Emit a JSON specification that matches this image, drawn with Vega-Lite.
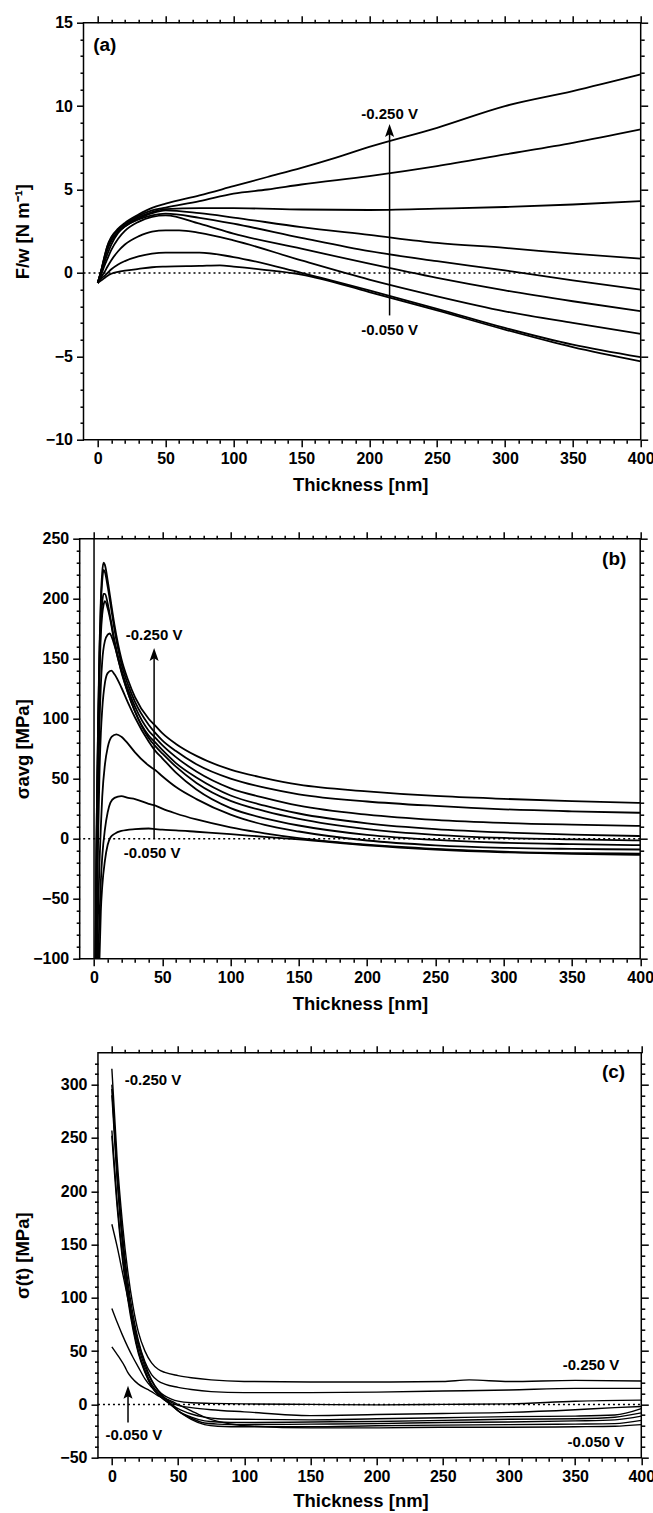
{
  "$schema": "https://vega.github.io/schema/vega-lite/v6.json",
  "background": "white",
  "padding": {"left": 12.7, "top": 14.7, "right": 0, "bottom": 0},
  "config": {
    "view": {"stroke": null},
    "axis": {"domain": false, "grid": false, "labelFont": "Liberation Sans", "labelFontSize": 16, "labelFontWeight": "bold", "labelColor": "black", "titleFont": "Liberation Sans", "titleFontSize": 18.5, "titleFontWeight": "bold", "titleColor": "black", "tickColor": "black", "tickWidth": 1.5, "labelOverlap": false, "labelFlush": false, "labelPadding": 4, "titlePadding": 9},
    "text": {"font": "Liberation Sans", "fontWeight": "bold", "fontSize": 15, "color": "black"}
  },
  "datasets": {
    "a": [
      {"s":1,"x":0,"y":-0.6},{"s":1,"x":3,"y":0.3},{"s":1,"x":5,"y":1.0},{"s":1,"x":7,"y":1.6},{"s":1,"x":10,"y":2.15},{"s":1,"x":15,"y":2.65},{"s":1,"x":20,"y":3.0},{"s":1,"x":30,"y":3.5},{"s":1,"x":40,"y":3.9},{"s":1,"x":50,"y":4.15},{"s":1,"x":75,"y":4.65},{"s":1,"x":100,"y":5.2},{"s":1,"x":125,"y":5.75},{"s":1,"x":150,"y":6.3},{"s":1,"x":175,"y":6.9},{"s":1,"x":200,"y":7.55},{"s":1,"x":250,"y":8.7},{"s":1,"x":300,"y":10.0},{"s":1,"x":350,"y":10.9},{"s":1,"x":400,"y":11.9},
      {"s":2,"x":0,"y":-0.6},{"s":2,"x":3,"y":0.28},{"s":2,"x":5,"y":0.97},{"s":2,"x":7,"y":1.57},{"s":2,"x":10,"y":2.1},{"s":2,"x":15,"y":2.6},{"s":2,"x":20,"y":2.92},{"s":2,"x":30,"y":3.42},{"s":2,"x":40,"y":3.75},{"s":2,"x":50,"y":3.92},{"s":2,"x":75,"y":4.3},{"s":2,"x":100,"y":4.75},{"s":2,"x":125,"y":5.0},{"s":2,"x":150,"y":5.3},{"s":2,"x":200,"y":5.8},{"s":2,"x":250,"y":6.4},{"s":2,"x":300,"y":7.1},{"s":2,"x":350,"y":7.8},{"s":2,"x":400,"y":8.6},
      {"s":3,"x":0,"y":-0.6},{"s":3,"x":3,"y":0.25},{"s":3,"x":5,"y":0.9},{"s":3,"x":7,"y":1.43},{"s":3,"x":10,"y":1.96},{"s":3,"x":15,"y":2.48},{"s":3,"x":20,"y":2.82},{"s":3,"x":30,"y":3.33},{"s":3,"x":40,"y":3.65},{"s":3,"x":50,"y":3.82},{"s":3,"x":75,"y":3.88},{"s":3,"x":100,"y":3.88},{"s":3,"x":150,"y":3.8},{"s":3,"x":200,"y":3.77},{"s":3,"x":250,"y":3.85},{"s":3,"x":300,"y":3.95},{"s":3,"x":350,"y":4.1},{"s":3,"x":400,"y":4.3},
      {"s":4,"x":0,"y":-0.6},{"s":4,"x":3,"y":0.22},{"s":4,"x":5,"y":0.85},{"s":4,"x":7,"y":1.36},{"s":4,"x":10,"y":1.92},{"s":4,"x":15,"y":2.45},{"s":4,"x":20,"y":2.78},{"s":4,"x":30,"y":3.25},{"s":4,"x":40,"y":3.58},{"s":4,"x":50,"y":3.75},{"s":4,"x":75,"y":3.58},{"s":4,"x":100,"y":3.32},{"s":4,"x":150,"y":2.75},{"s":4,"x":200,"y":2.28},{"s":4,"x":250,"y":1.8},{"s":4,"x":300,"y":1.5},{"s":4,"x":350,"y":1.15},{"s":4,"x":400,"y":0.85},
      {"s":5,"x":0,"y":-0.6},{"s":5,"x":3,"y":0.12},{"s":5,"x":5,"y":0.64},{"s":5,"x":7,"y":1.1},{"s":5,"x":10,"y":1.7},{"s":5,"x":15,"y":2.4},{"s":5,"x":20,"y":2.8},{"s":5,"x":30,"y":3.2},{"s":5,"x":40,"y":3.45},{"s":5,"x":50,"y":3.55},{"s":5,"x":75,"y":3.3},{"s":5,"x":100,"y":2.95},{"s":5,"x":150,"y":2.1},{"s":5,"x":200,"y":1.3},{"s":5,"x":250,"y":0.7},{"s":5,"x":300,"y":0.15},{"s":5,"x":350,"y":-0.45},{"s":5,"x":400,"y":-1.0},
      {"s":6,"x":0,"y":-0.6},{"s":6,"x":3,"y":0.0},{"s":6,"x":5,"y":0.44},{"s":6,"x":7,"y":0.82},{"s":6,"x":10,"y":1.38},{"s":6,"x":15,"y":2.05},{"s":6,"x":20,"y":2.52},{"s":6,"x":30,"y":3.06},{"s":6,"x":40,"y":3.36},{"s":6,"x":50,"y":3.45},{"s":6,"x":75,"y":2.95},{"s":6,"x":100,"y":2.35},{"s":6,"x":150,"y":1.45},{"s":6,"x":200,"y":0.55},{"s":6,"x":250,"y":-0.3},{"s":6,"x":300,"y":-1.05},{"s":6,"x":350,"y":-1.7},{"s":6,"x":400,"y":-2.3},
      {"s":7,"x":0,"y":-0.6},{"s":7,"x":3,"y":-0.18},{"s":7,"x":5,"y":0.05},{"s":7,"x":7,"y":0.35},{"s":7,"x":10,"y":0.76},{"s":7,"x":15,"y":1.3},{"s":7,"x":20,"y":1.7},{"s":7,"x":30,"y":2.19},{"s":7,"x":40,"y":2.48},{"s":7,"x":50,"y":2.55},{"s":7,"x":60,"y":2.55},{"s":7,"x":75,"y":2.4},{"s":7,"x":100,"y":1.95},{"s":7,"x":150,"y":0.75},{"s":7,"x":200,"y":-0.4},{"s":7,"x":250,"y":-1.4},{"s":7,"x":300,"y":-2.3},{"s":7,"x":350,"y":-3.0},{"s":7,"x":400,"y":-3.65},
      {"s":8,"x":0,"y":-0.6},{"s":8,"x":3,"y":-0.3},{"s":8,"x":5,"y":-0.18},{"s":8,"x":7,"y":-0.02},{"s":8,"x":10,"y":0.22},{"s":8,"x":15,"y":0.51},{"s":8,"x":20,"y":0.71},{"s":8,"x":30,"y":0.99},{"s":8,"x":40,"y":1.16},{"s":8,"x":50,"y":1.22},{"s":8,"x":75,"y":1.22},{"s":8,"x":100,"y":0.95},{"s":8,"x":150,"y":0.0},{"s":8,"x":200,"y":-1.05},{"s":8,"x":250,"y":-2.15},{"s":8,"x":300,"y":-3.3},{"s":8,"x":350,"y":-4.3},{"s":8,"x":400,"y":-5.05},
      {"s":9,"x":0,"y":-0.6},{"s":9,"x":3,"y":-0.42},{"s":9,"x":5,"y":-0.3},{"s":9,"x":7,"y":-0.18},{"s":9,"x":10,"y":-0.05},{"s":9,"x":15,"y":0.06},{"s":9,"x":20,"y":0.13},{"s":9,"x":30,"y":0.24},{"s":9,"x":40,"y":0.34},{"s":9,"x":50,"y":0.38},{"s":9,"x":75,"y":0.42},{"s":9,"x":90,"y":0.45},{"s":9,"x":100,"y":0.38},{"s":9,"x":130,"y":0.12},{"s":9,"x":150,"y":-0.1},{"s":9,"x":200,"y":-1.15},{"s":9,"x":250,"y":-2.25},{"s":9,"x":300,"y":-3.4},{"s":9,"x":350,"y":-4.45},{"s":9,"x":400,"y":-5.3}
    ],
    "b": [
      {"s":1,"x":1,"y":-100},{"s":1,"x":2,"y":20},{"s":1,"x":3,"y":100},{"s":1,"x":4,"y":160},{"s":1,"x":5,"y":200},{"s":1,"x":6,"y":222},{"s":1,"x":7,"y":230},{"s":1,"x":8,"y":228},{"s":1,"x":10,"y":215},{"s":1,"x":12,"y":200},{"s":1,"x":15,"y":178},{"s":1,"x":20,"y":150},{"s":1,"x":25,"y":132},{"s":1,"x":30,"y":118},{"s":1,"x":40,"y":100},{"s":1,"x":45,"y":94},{"s":1,"x":50,"y":88},{"s":1,"x":60,"y":79},{"s":1,"x":75,"y":69},{"s":1,"x":100,"y":57.5},{"s":1,"x":125,"y":50.5},{"s":1,"x":150,"y":45},{"s":1,"x":200,"y":39.5},{"s":1,"x":250,"y":35.6},{"s":1,"x":300,"y":33.2},{"s":1,"x":350,"y":31.3},{"s":1,"x":400,"y":29.8},
      {"s":2,"x":1.1,"y":-100},{"s":2,"x":2,"y":15},{"s":2,"x":3,"y":95},{"s":2,"x":4,"y":155},{"s":2,"x":5,"y":195},{"s":2,"x":6,"y":215},{"s":2,"x":7,"y":224},{"s":2,"x":8,"y":222},{"s":2,"x":10,"y":210},{"s":2,"x":12,"y":196},{"s":2,"x":15,"y":174},{"s":2,"x":20,"y":146},{"s":2,"x":25,"y":128},{"s":2,"x":30,"y":114},{"s":2,"x":40,"y":95},{"s":2,"x":45,"y":88},{"s":2,"x":50,"y":82},{"s":2,"x":60,"y":73},{"s":2,"x":75,"y":62},{"s":2,"x":100,"y":50},{"s":2,"x":125,"y":42.5},{"s":2,"x":150,"y":37},{"s":2,"x":200,"y":31},{"s":2,"x":250,"y":27.3},{"s":2,"x":300,"y":24.5},{"s":2,"x":350,"y":22.8},{"s":2,"x":400,"y":21.6},
      {"s":3,"x":1.2,"y":-100},{"s":3,"x":2,"y":5},{"s":3,"x":3,"y":85},{"s":3,"x":4,"y":145},{"s":3,"x":5,"y":180},{"s":3,"x":6,"y":197},{"s":3,"x":7,"y":204},{"s":3,"x":8,"y":204},{"s":3,"x":10,"y":196},{"s":3,"x":12,"y":184},{"s":3,"x":15,"y":165},{"s":3,"x":20,"y":141},{"s":3,"x":25,"y":124},{"s":3,"x":30,"y":110},{"s":3,"x":40,"y":90},{"s":3,"x":45,"y":84},{"s":3,"x":50,"y":78},{"s":3,"x":60,"y":68},{"s":3,"x":75,"y":56},{"s":3,"x":100,"y":42},{"s":3,"x":125,"y":34},{"s":3,"x":150,"y":27.5},{"s":3,"x":200,"y":20},{"s":3,"x":250,"y":15.6},{"s":3,"x":300,"y":13.1},{"s":3,"x":350,"y":11.7},{"s":3,"x":400,"y":10.7},
      {"s":4,"x":1.3,"y":-100},{"s":4,"x":2,"y":-5},{"s":4,"x":3,"y":75},{"s":4,"x":4,"y":135},{"s":4,"x":5,"y":170},{"s":4,"x":6,"y":187},{"s":4,"x":7,"y":195},{"s":4,"x":8,"y":198},{"s":4,"x":10,"y":192},{"s":4,"x":12,"y":182},{"s":4,"x":15,"y":163},{"s":4,"x":20,"y":139},{"s":4,"x":25,"y":121},{"s":4,"x":30,"y":106},{"s":4,"x":40,"y":86},{"s":4,"x":45,"y":80},{"s":4,"x":50,"y":74},{"s":4,"x":60,"y":63},{"s":4,"x":75,"y":51},{"s":4,"x":100,"y":36},{"s":4,"x":125,"y":27.5},{"s":4,"x":150,"y":21},{"s":4,"x":200,"y":12.8},{"s":4,"x":250,"y":8},{"s":4,"x":300,"y":5.2},{"s":4,"x":350,"y":3.4},{"s":4,"x":400,"y":2.2},
      {"s":5,"x":1.5,"y":-100},{"s":5,"x":2,"y":-40},{"s":5,"x":3,"y":40},{"s":5,"x":4,"y":95},{"s":5,"x":5,"y":128},{"s":5,"x":6,"y":148},{"s":5,"x":8,"y":165},{"s":5,"x":10,"y":170},{"s":5,"x":11.5,"y":171},{"s":5,"x":13,"y":168},{"s":5,"x":15,"y":161},{"s":5,"x":20,"y":140},{"s":5,"x":25,"y":121},{"s":5,"x":30,"y":106},{"s":5,"x":40,"y":84},{"s":5,"x":45,"y":77},{"s":5,"x":50,"y":71},{"s":5,"x":60,"y":60},{"s":5,"x":75,"y":46.5},{"s":5,"x":100,"y":31.5},{"s":5,"x":125,"y":23},{"s":5,"x":150,"y":16.5},{"s":5,"x":200,"y":8},{"s":5,"x":250,"y":3.2},{"s":5,"x":300,"y":0.6},{"s":5,"x":350,"y":-0.6},{"s":5,"x":400,"y":-1.4},
      {"s":6,"x":1.8,"y":-100},{"s":6,"x":2,"y":-80},{"s":6,"x":3,"y":0},{"s":6,"x":4,"y":55},{"s":6,"x":5,"y":88},{"s":6,"x":6,"y":108},{"s":6,"x":8,"y":130},{"s":6,"x":10,"y":138},{"s":6,"x":12.7,"y":140},{"s":6,"x":15,"y":137},{"s":6,"x":20,"y":126},{"s":6,"x":25,"y":113},{"s":6,"x":30,"y":101},{"s":6,"x":40,"y":81},{"s":6,"x":45,"y":73},{"s":6,"x":50,"y":67},{"s":6,"x":60,"y":55},{"s":6,"x":75,"y":41},{"s":6,"x":100,"y":25.5},{"s":6,"x":125,"y":17},{"s":6,"x":150,"y":11},{"s":6,"x":200,"y":3.2},{"s":6,"x":250,"y":-1},{"s":6,"x":300,"y":-3.4},{"s":6,"x":350,"y":-4.6},{"s":6,"x":400,"y":-5.4},
      {"s":7,"x":2.3,"y":-100},{"s":7,"x":3,"y":-60},{"s":7,"x":4,"y":-20},{"s":7,"x":5,"y":10},{"s":7,"x":6,"y":35},{"s":7,"x":8,"y":62},{"s":7,"x":10,"y":76},{"s":7,"x":13,"y":85},{"s":7,"x":16.4,"y":87},{"s":7,"x":20,"y":85},{"s":7,"x":25,"y":79},{"s":7,"x":30,"y":72},{"s":7,"x":40,"y":61},{"s":7,"x":45,"y":57},{"s":7,"x":50,"y":52},{"s":7,"x":60,"y":43},{"s":7,"x":75,"y":33},{"s":7,"x":100,"y":20},{"s":7,"x":125,"y":11.5},{"s":7,"x":150,"y":6},{"s":7,"x":200,"y":-1.5},{"s":7,"x":250,"y":-5.5},{"s":7,"x":300,"y":-7.6},{"s":7,"x":350,"y":-8.5},{"s":7,"x":400,"y":-9},
      {"s":8,"x":3,"y":-100},{"s":8,"x":4,"y":-65},{"s":8,"x":5,"y":-35},{"s":8,"x":6,"y":-15},{"s":8,"x":8,"y":8},{"s":8,"x":10,"y":22},{"s":8,"x":12,"y":30},{"s":8,"x":15,"y":34},{"s":8,"x":20,"y":35.5},{"s":8,"x":25,"y":34},{"s":8,"x":30,"y":33},{"s":8,"x":40,"y":29},{"s":8,"x":45,"y":27.5},{"s":8,"x":50,"y":25},{"s":8,"x":60,"y":21},{"s":8,"x":75,"y":16},{"s":8,"x":100,"y":9.5},{"s":8,"x":125,"y":4.5},{"s":8,"x":150,"y":0.5},{"s":8,"x":200,"y":-5},{"s":8,"x":250,"y":-8.5},{"s":8,"x":300,"y":-10.8},{"s":8,"x":350,"y":-12},{"s":8,"x":400,"y":-12.4},
      {"s":9,"x":4,"y":-100},{"s":9,"x":5,"y":-60},{"s":9,"x":6,"y":-40},{"s":9,"x":8,"y":-18},{"s":9,"x":10,"y":-5},{"s":9,"x":12,"y":1},{"s":9,"x":15,"y":4},{"s":9,"x":20,"y":6.5},{"s":9,"x":30,"y":8},{"s":9,"x":40,"y":8.5},{"s":9,"x":45,"y":8},{"s":9,"x":50,"y":7.5},{"s":9,"x":60,"y":7},{"s":9,"x":75,"y":5.8},{"s":9,"x":100,"y":3.8},{"s":9,"x":125,"y":1.5},{"s":9,"x":150,"y":-0.5},{"s":9,"x":200,"y":-5.5},{"s":9,"x":250,"y":-9},{"s":9,"x":300,"y":-11.3},{"s":9,"x":350,"y":-12.7},{"s":9,"x":400,"y":-13.5}
    ],
    "c": [
      {"s":1,"x":0,"y":315},{"s":1,"x":4,"y":230},{"s":1,"x":8,"y":170},{"s":1,"x":12,"y":125},{"s":1,"x":16,"y":92},{"s":1,"x":20,"y":68},{"s":1,"x":25,"y":50},{"s":1,"x":30,"y":39},{"s":1,"x":35,"y":33},{"s":1,"x":40,"y":30},{"s":1,"x":50,"y":27},{"s":1,"x":60,"y":25},{"s":1,"x":75,"y":23},{"s":1,"x":100,"y":21.5},{"s":1,"x":150,"y":21},{"s":1,"x":200,"y":21},{"s":1,"x":250,"y":21.5},{"s":1,"x":270,"y":23},{"s":1,"x":300,"y":21.5},{"s":1,"x":350,"y":22.5},{"s":1,"x":400,"y":22},
      {"s":2,"x":0,"y":300},{"s":2,"x":4,"y":220},{"s":2,"x":8,"y":160},{"s":2,"x":12,"y":116},{"s":2,"x":16,"y":84},{"s":2,"x":20,"y":60},{"s":2,"x":25,"y":40},{"s":2,"x":30,"y":28},{"s":2,"x":35,"y":22},{"s":2,"x":40,"y":19},{"s":2,"x":50,"y":16},{"s":2,"x":60,"y":14},{"s":2,"x":75,"y":12},{"s":2,"x":100,"y":11},{"s":2,"x":150,"y":11},{"s":2,"x":200,"y":11.5},{"s":2,"x":250,"y":12.5},{"s":2,"x":300,"y":13.5},{"s":2,"x":350,"y":15},{"s":2,"x":400,"y":15},
      {"s":3,"x":0,"y":296},{"s":3,"x":4,"y":215},{"s":3,"x":8,"y":155},{"s":3,"x":12,"y":110},{"s":3,"x":16,"y":78},{"s":3,"x":20,"y":55},{"s":3,"x":25,"y":35},{"s":3,"x":30,"y":22},{"s":3,"x":35,"y":13},{"s":3,"x":40,"y":8},{"s":3,"x":45,"y":5},{"s":3,"x":50,"y":3},{"s":3,"x":60,"y":1.5},{"s":3,"x":75,"y":1},{"s":3,"x":100,"y":0.5},{"s":3,"x":150,"y":0},{"s":3,"x":200,"y":-0.5},{"s":3,"x":250,"y":0},{"s":3,"x":300,"y":0.5},{"s":3,"x":350,"y":3},{"s":3,"x":400,"y":4},
      {"s":4,"x":0,"y":290},{"s":4,"x":4,"y":210},{"s":4,"x":8,"y":150},{"s":4,"x":12,"y":106},{"s":4,"x":16,"y":74},{"s":4,"x":20,"y":50},{"s":4,"x":25,"y":32},{"s":4,"x":30,"y":19},{"s":4,"x":35,"y":11},{"s":4,"x":40,"y":6},{"s":4,"x":45,"y":2},{"s":4,"x":50,"y":-1},{"s":4,"x":60,"y":-3},{"s":4,"x":75,"y":-5},{"s":4,"x":100,"y":-7},{"s":4,"x":150,"y":-10.5},{"s":4,"x":200,"y":-9.5},{"s":4,"x":250,"y":-8.5},{"s":4,"x":300,"y":-7.5},{"s":4,"x":350,"y":-5},{"s":4,"x":380,"y":-3},{"s":4,"x":400,"y":-2},
      {"s":5,"x":0,"y":257},{"s":5,"x":4,"y":190},{"s":5,"x":8,"y":140},{"s":5,"x":12,"y":102},{"s":5,"x":16,"y":73},{"s":5,"x":20,"y":50},{"s":5,"x":25,"y":31},{"s":5,"x":30,"y":17},{"s":5,"x":35,"y":9},{"s":5,"x":40,"y":4},{"s":5,"x":45,"y":0},{"s":5,"x":50,"y":-4},{"s":5,"x":60,"y":-9},{"s":5,"x":70,"y":-12},{"s":5,"x":80,"y":-13.5},{"s":5,"x":100,"y":-14},{"s":5,"x":150,"y":-14.5},{"s":5,"x":200,"y":-13.5},{"s":5,"x":250,"y":-12.5},{"s":5,"x":300,"y":-11.5},{"s":5,"x":350,"y":-11},{"s":5,"x":380,"y":-10},{"s":5,"x":400,"y":-4},
      {"s":6,"x":0,"y":252},{"s":6,"x":4,"y":185},{"s":6,"x":8,"y":136},{"s":6,"x":12,"y":99},{"s":6,"x":16,"y":70},{"s":6,"x":20,"y":48},{"s":6,"x":25,"y":30},{"s":6,"x":30,"y":17},{"s":6,"x":35,"y":9},{"s":6,"x":40,"y":4},{"s":6,"x":45,"y":-1},{"s":6,"x":50,"y":-6},{"s":6,"x":60,"y":-12},{"s":6,"x":70,"y":-15.5},{"s":6,"x":80,"y":-16.5},{"s":6,"x":100,"y":-17},{"s":6,"x":150,"y":-16.5},{"s":6,"x":200,"y":-16},{"s":6,"x":250,"y":-15},{"s":6,"x":300,"y":-14},{"s":6,"x":350,"y":-13.5},{"s":6,"x":380,"y":-12},{"s":6,"x":400,"y":-8},
      {"s":7,"x":0,"y":169},{"s":7,"x":4,"y":148},{"s":7,"x":8,"y":124},{"s":7,"x":12,"y":100},{"s":7,"x":16,"y":78},{"s":7,"x":20,"y":58},{"s":7,"x":25,"y":38},{"s":7,"x":30,"y":23},{"s":7,"x":35,"y":13},{"s":7,"x":40,"y":6},{"s":7,"x":45,"y":0},{"s":7,"x":50,"y":-6},{"s":7,"x":60,"y":-13},{"s":7,"x":70,"y":-17.5},{"s":7,"x":80,"y":-18.5},{"s":7,"x":100,"y":-19},{"s":7,"x":150,"y":-18.5},{"s":7,"x":200,"y":-18},{"s":7,"x":250,"y":-17},{"s":7,"x":300,"y":-16.5},{"s":7,"x":350,"y":-15.5},{"s":7,"x":380,"y":-14.5},{"s":7,"x":400,"y":-11},
      {"s":8,"x":0,"y":90},{"s":8,"x":4,"y":77},{"s":8,"x":8,"y":65},{"s":8,"x":12,"y":54},{"s":8,"x":16,"y":44},{"s":8,"x":20,"y":35},{"s":8,"x":25,"y":24},{"s":8,"x":30,"y":16},{"s":8,"x":35,"y":10},{"s":8,"x":40,"y":6},{"s":8,"x":45,"y":0},{"s":8,"x":50,"y":-6},{"s":8,"x":60,"y":-14},{"s":8,"x":70,"y":-19},{"s":8,"x":80,"y":-20.5},{"s":8,"x":100,"y":-21},{"s":8,"x":150,"y":-21},{"s":8,"x":200,"y":-20},{"s":8,"x":250,"y":-19.5},{"s":8,"x":300,"y":-19},{"s":8,"x":350,"y":-18.5},{"s":8,"x":380,"y":-18},{"s":8,"x":400,"y":-15},
      {"s":9,"x":0,"y":54},{"s":9,"x":5,"y":45},{"s":9,"x":10,"y":35},{"s":9,"x":12,"y":30},{"s":9,"x":15,"y":25},{"s":9,"x":20,"y":19},{"s":9,"x":27,"y":14},{"s":9,"x":30,"y":12},{"s":9,"x":35,"y":8},{"s":9,"x":40,"y":5.6},{"s":9,"x":45,"y":3},{"s":9,"x":50,"y":0},{"s":9,"x":60,"y":-6},{"s":9,"x":70,"y":-12},{"s":9,"x":80,"y":-16},{"s":9,"x":100,"y":-20},{"s":9,"x":150,"y":-22},{"s":9,"x":200,"y":-22},{"s":9,"x":250,"y":-21.5},{"s":9,"x":300,"y":-21.5},{"s":9,"x":350,"y":-21},{"s":9,"x":380,"y":-20.5},{"s":9,"x":400,"y":-19}
    ]
  },
  "spacing": 36,
  "vconcat": [
    {
      "width": 561, "height": 417,
      "resolve": {"axis": {"x": "independent", "y": "independent"}},
      "layer": [
        {"data": {"values": [{"x": -10.5, "x2": 400, "y": -10, "y2": 15}]}, "mark": {"type": "rect", "fill": "transparent", "stroke": "black", "strokeWidth": 1.5},
         "encoding": {"x": {"field": "x", "type": "quantitative", "scale": {"domain": [-13.3, 400], "nice": false, "zero": false}, "axis": null}, "x2": {"field": "x2"}, "y": {"field": "y", "type": "quantitative", "scale": {"domain": [-10, 15], "nice": false, "zero": false}, "axis": null}, "y2": {"field": "y2"}}},
        {"data": {"name": "a"}, "mark": {"type": "line", "color": "black", "strokeWidth": 1.8, "interpolate": "monotone", "clip": true},
         "encoding": {
           "x": {"field": "x", "type": "quantitative", "scale": {"domain": [-13.3, 400], "nice": false, "zero": false},
                 "axis": {"orient": "bottom", "title": "Thickness [nm]", "values": [0,10,20,30,40,50,60,70,80,90,100,110,120,130,140,150,160,170,180,190,200,210,220,230,240,250,260,270,280,290,300,310,320,330,340,350,360,370,380,390,400], "labelExpr": "datum.value % 50 === 0 ? datum.label : ''", "tickSize": {"condition": {"test": "datum.value % 50 === 0", "value": 7}, "value": 3.5}}},
           "y": {"field": "y", "type": "quantitative", "scale": {"domain": [-10, 15], "nice": false, "zero": false},
                 "axis": {"orient": "left", "offset": -3.8, "title": "F/w [N m⁻¹]", "titleX": -51, "values": [-10,-9,-8,-7,-6,-5,-4,-3,-2,-1,0,1,2,3,4,5,6,7,8,9,10,11,12,13,14,15], "labelExpr": "datum.value % 5 === 0 ? datum.label : ''", "tickSize": {"condition": {"test": "datum.value % 5 === 0", "value": 7}, "value": 3.5}}},
           "detail": {"field": "s", "type": "nominal"}
         }},
        {"data": {"values": [{"x": -10.5, "x2": 400}]}, "mark": {"type": "rule", "color": "black", "strokeDash": [2, 3], "strokeWidth": 1.5},
         "encoding": {"x": {"field": "x", "type": "quantitative", "axis": null}, "x2": {"field": "x2"},
           "y": {"datum": 0, "type": "quantitative", "scale": {"domain": [-10, 15], "nice": false, "zero": false},
                 "axis": {"orient": "right", "title": null, "labels": false, "values": [-10,-9,-8,-7,-6,-5,-4,-3,-2,-1,0,1,2,3,4,5,6,7,8,9,10,11,12,13,14,15], "tickSize": {"condition": {"test": "datum.value % 5 === 0", "value": 7}, "value": 3.5}}}}},
        {"data": {"values": [{"x": 215, "y": 9.55, "t": "-0.250 V"}, {"x": 215, "y": -3.4, "t": "-0.050 V"}]}, "mark": {"type": "text", "align": "center", "baseline": "middle"},
         "encoding": {
           "x": {"field": "x", "type": "quantitative", "scale": {"domain": [-13.3, 400], "nice": false, "zero": false},
                 "axis": {"orient": "top", "title": null, "labels": false, "values": [0,10,20,30,40,50,60,70,80,90,100,110,120,130,140,150,160,170,180,190,200,210,220,230,240,250,260,270,280,290,300,310,320,330,340,350,360,370,380,390,400], "tickSize": {"condition": {"test": "datum.value % 50 === 0", "value": 7}, "value": 3.5}}},
           "y": {"field": "y", "type": "quantitative", "scale": {"domain": [-10, 15], "nice": false, "zero": false}, "axis": null},
           "text": {"field": "t"}
         }},
        {"data": {"values": [{"x": 5.2, "y": 13.66, "t": "(a)"}]}, "mark": {"type": "text", "fontSize": 19, "align": "center", "baseline": "middle"},
         "encoding": {"x": {"field": "x", "type": "quantitative", "axis": null}, "y": {"field": "y", "type": "quantitative", "axis": null}, "text": {"field": "t"}}},
        {"data": {"values": [{"x": 215, "y": -2.55, "y2": 8.54}]}, "mark": {"type": "rule", "color": "black", "strokeWidth": 1.5},
         "encoding": {"x": {"field": "x", "type": "quantitative", "axis": null}, "y": {"field": "y", "type": "quantitative", "axis": null}, "y2": {"field": "y2"}}},
        {"data": {"values": [{"x": 215, "y": 8.54}]}, "mark": {"type": "point", "shape": "M0,-1L0.7,1L0,0.6L-0.7,1Z", "size": 169, "filled": true, "color": "black", "opacity": 1},
         "encoding": {"x": {"field": "x", "type": "quantitative", "axis": null}, "y": {"field": "y", "type": "quantitative", "axis": null}}}
      ]
    },
    {
      "spacing": 31,
      "vconcat": [
        {
          "width": 560.5, "height": 420,
          "resolve": {"axis": {"x": "independent", "y": "independent"}},
          "layer": [
            {"data": {"values": [{"x": -10.5, "x2": 400, "y": -100, "y2": 250}]}, "mark": {"type": "rect", "fill": "transparent", "stroke": "black", "strokeWidth": 1.5},
             "encoding": {"x": {"field": "x", "type": "quantitative", "scale": {"domain": [-10.5, 400], "nice": false, "zero": false}, "axis": null}, "x2": {"field": "x2"}, "y": {"field": "y", "type": "quantitative", "scale": {"domain": [-100, 250], "nice": false, "zero": false}, "axis": null}, "y2": {"field": "y2"}}},
            {"data": {"values": [{}]}, "mark": {"type": "rule", "color": "black", "strokeWidth": 1.5},
             "encoding": {"x": {"datum": 0, "type": "quantitative", "scale": {"domain": [-10.5, 400], "nice": false, "zero": false}, "axis": null}}},
            {"data": {"name": "b"}, "mark": {"type": "line", "color": "black", "strokeWidth": 1.8, "interpolate": "monotone", "clip": true},
             "encoding": {
               "x": {"field": "x", "type": "quantitative", "scale": {"domain": [-10.5, 400], "nice": false, "zero": false},
                     "axis": {"orient": "bottom", "title": "Thickness [nm]", "values": [0,10,20,30,40,50,60,70,80,90,100,110,120,130,140,150,160,170,180,190,200,210,220,230,240,250,260,270,280,290,300,310,320,330,340,350,360,370,380,390,400], "labelExpr": "datum.value % 50 === 0 ? datum.label : ''", "tickSize": {"condition": {"test": "datum.value % 50 === 0", "value": 7}, "value": 3.5}}},
               "y": {"field": "y", "type": "quantitative", "scale": {"domain": [-100, 250], "nice": false, "zero": false},
                     "axis": {"orient": "left", "title": "σavg [MPa]", "titleX": -47.2, "values": [-100,-90,-80,-70,-60,-50,-40,-30,-20,-10,0,10,20,30,40,50,60,70,80,90,100,110,120,130,140,150,160,170,180,190,200,210,220,230,240,250], "labelExpr": "datum.value % 50 === 0 ? datum.label : ''", "tickSize": {"condition": {"test": "datum.value % 50 === 0", "value": 7}, "value": 3.5}}},
               "detail": {"field": "s", "type": "nominal"}
             }},
            {"data": {"values": [{}]}, "mark": {"type": "rule", "color": "black", "strokeDash": [2, 3], "strokeWidth": 1.5},
             "encoding": {"y": {"datum": 0, "type": "quantitative", "scale": {"domain": [-100, 250], "nice": false, "zero": false},
                     "axis": {"orient": "right", "title": null, "labels": false, "values": [-100,-90,-80,-70,-60,-50,-40,-30,-20,-10,0,10,20,30,40,50,60,70,80,90,100,110,120,130,140,150,160,170,180,190,200,210,220,230,240,250], "tickSize": {"condition": {"test": "datum.value % 50 === 0", "value": 7}, "value": 3.5}}}}},
            {"data": {"values": [{"x": 44, "y": 169.4, "t": "-0.250 V"}, {"x": 42.6, "y": -11.7, "t": "-0.050 V"}]}, "mark": {"type": "text", "align": "center", "baseline": "middle"},
             "encoding": {
               "x": {"field": "x", "type": "quantitative", "scale": {"domain": [-10.5, 400], "nice": false, "zero": false},
                     "axis": {"orient": "top", "title": null, "labels": false, "values": [0,10,20,30,40,50,60,70,80,90,100,110,120,130,140,150,160,170,180,190,200,210,220,230,240,250,260,270,280,290,300,310,320,330,340,350,360,370,380,390,400], "tickSize": {"condition": {"test": "datum.value % 50 === 0", "value": 7}, "value": 3.5}}},
               "y": {"field": "y", "type": "quantitative", "scale": {"domain": [-100, 250], "nice": false, "zero": false}, "axis": null},
               "text": {"field": "t"}
             }},
            {"data": {"values": [{"x": 381, "y": 232.7, "t": "(b)"}]}, "mark": {"type": "text", "fontSize": 19, "align": "center", "baseline": "middle"},
             "encoding": {"x": {"field": "x", "type": "quantitative", "axis": null}, "y": {"field": "y", "type": "quantitative", "axis": null}, "text": {"field": "t"}}},
            {"data": {"values": [{"x": 44, "y": 0, "y2": 153.6}]}, "mark": {"type": "rule", "color": "black", "strokeWidth": 1.5},
             "encoding": {"x": {"field": "x", "type": "quantitative", "axis": null}, "y": {"field": "y", "type": "quantitative", "axis": null}, "y2": {"field": "y2"}}},
            {"data": {"values": [{"x": 44, "y": 153.6}]}, "mark": {"type": "point", "shape": "M0,-1L0.7,1L0,0.6L-0.7,1Z", "size": 169, "filled": true, "color": "black", "opacity": 1},
             "encoding": {"x": {"field": "x", "type": "quantitative", "axis": null}, "y": {"field": "y", "type": "quantitative", "axis": null}}}
          ]
        },
        {
          "width": 561.6, "height": 405,
          "resolve": {"axis": {"x": "independent", "y": "independent"}},
          "layer": [
            {"data": {"values": [{"x": -10.5, "x2": 400, "y": -50, "y2": 330}]}, "mark": {"type": "rect", "fill": "transparent", "stroke": "black", "strokeWidth": 1.5},
             "encoding": {"x": {"field": "x", "type": "quantitative", "scale": {"domain": [-24.3, 400], "nice": false, "zero": false}, "axis": null}, "x2": {"field": "x2"}, "y": {"field": "y", "type": "quantitative", "scale": {"domain": [-50, 330], "nice": false, "zero": false}, "axis": null}, "y2": {"field": "y2"}}},
            {"data": {"name": "c"}, "mark": {"type": "line", "color": "black", "strokeWidth": 1.4, "interpolate": "monotone", "clip": true},
             "encoding": {
               "x": {"field": "x", "type": "quantitative", "scale": {"domain": [-24.3, 400], "nice": false, "zero": false},
                     "axis": {"orient": "bottom", "title": "Thickness [nm]", "titlePadding": 7, "values": [0,10,20,30,40,50,60,70,80,90,100,110,120,130,140,150,160,170,180,190,200,210,220,230,240,250,260,270,280,290,300,310,320,330,340,350,360,370,380,390,400], "labelExpr": "datum.value % 50 === 0 ? datum.label : ''", "tickSize": {"condition": {"test": "datum.value % 50 === 0", "value": 7}, "value": 3.5}}},
               "y": {"field": "y", "type": "quantitative", "scale": {"domain": [-50, 330], "nice": false, "zero": false},
                     "axis": {"orient": "left", "offset": -18.3, "title": "σ(t) [MPa]", "titleX": -65.5, "values": [-50,-40,-30,-20,-10,0,10,20,30,40,50,60,70,80,90,100,110,120,130,140,150,160,170,180,190,200,210,220,230,240,250,260,270,280,290,300,310,320], "labelExpr": "datum.value % 50 === 0 ? datum.label : ''", "tickSize": {"condition": {"test": "datum.value % 50 === 0", "value": 7}, "value": 3.5}}},
               "detail": {"field": "s", "type": "nominal"}
             }},
            {"data": {"values": [{"x": -10.5, "x2": 400}]}, "mark": {"type": "rule", "color": "black", "strokeDash": [2, 3], "strokeWidth": 1.5},
             "encoding": {"x": {"field": "x", "type": "quantitative", "axis": null}, "x2": {"field": "x2"},
               "y": {"datum": 0, "type": "quantitative", "scale": {"domain": [-50, 330], "nice": false, "zero": false},
                     "axis": {"orient": "right", "title": null, "labels": false, "values": [-50,-40,-30,-20,-10,0,10,20,30,40,50,60,70,80,90,100,110,120,130,140,150,160,170,180,190,200,210,220,230,240,250,260,270,280,290,300,310,320], "tickSize": {"condition": {"test": "datum.value % 50 === 0", "value": 7}, "value": 3.5}}}}},
            {"data": {"values": [{"x": 31.1, "y": 304.2, "t": "-0.250 V"}, {"x": 362, "y": 37.3, "t": "-0.250 V"}, {"x": 365.7, "y": -35.6, "t": "-0.050 V"}, {"x": 16.6, "y": -28.3, "t": "-0.050 V"}]}, "mark": {"type": "text", "align": "center", "baseline": "middle"},
             "encoding": {
               "x": {"field": "x", "type": "quantitative", "scale": {"domain": [-24.3, 400], "nice": false, "zero": false},
                     "axis": {"orient": "top", "title": null, "labels": false, "values": [0,10,20,30,40,50,60,70,80,90,100,110,120,130,140,150,160,170,180,190,200,210,220,230,240,250,260,270,280,290,300,310,320,330,340,350,360,370,380,390,400], "tickSize": {"condition": {"test": "datum.value % 50 === 0", "value": 7}, "value": 3.5}}},
               "y": {"field": "y", "type": "quantitative", "scale": {"domain": [-50, 330], "nice": false, "zero": false}, "axis": null},
               "text": {"field": "t"}
             }},
            {"data": {"values": [{"x": 379, "y": 311.7, "t": "(c)"}]}, "mark": {"type": "text", "fontSize": 19, "align": "center", "baseline": "middle"},
             "encoding": {"x": {"field": "x", "type": "quantitative", "axis": null}, "y": {"field": "y", "type": "quantitative", "axis": null}, "text": {"field": "t"}}},
            {"data": {"values": [{"x": 12.2, "y": -16.9, "y2": 11.3}]}, "mark": {"type": "rule", "color": "black", "strokeWidth": 1.5},
             "encoding": {"x": {"field": "x", "type": "quantitative", "axis": null}, "y": {"field": "y", "type": "quantitative", "axis": null}, "y2": {"field": "y2"}}},
            {"data": {"values": [{"x": 12.2, "y": 11.3}]}, "mark": {"type": "point", "shape": "M0,-1L0.7,1L0,0.6L-0.7,1Z", "size": 169, "filled": true, "color": "black", "opacity": 1},
             "encoding": {"x": {"field": "x", "type": "quantitative", "axis": null}, "y": {"field": "y", "type": "quantitative", "axis": null}}}
          ]
        }
      ]
    }
  ]
}
